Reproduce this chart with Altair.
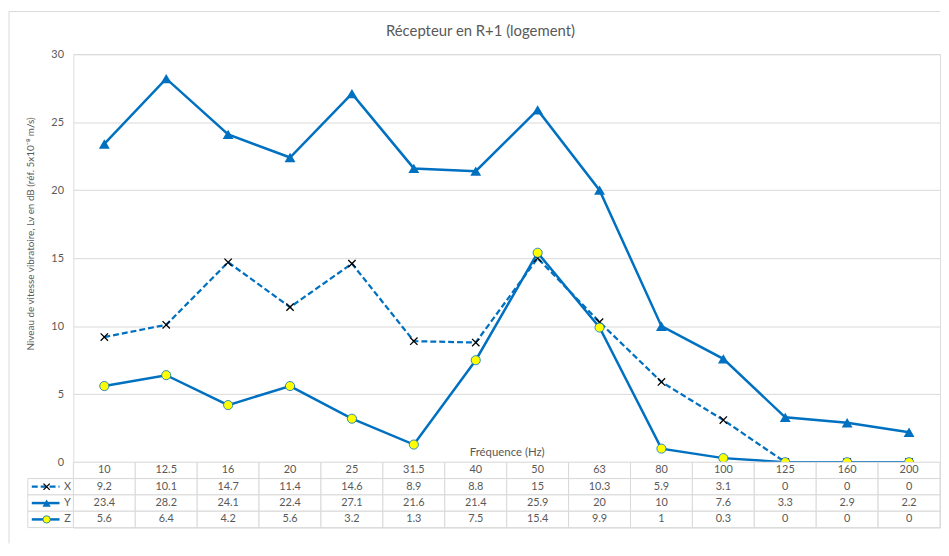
import altair as alt
import pandas as pd

# ---------------- data ----------------
freqs = ["10", "12.5", "16", "20", "25", "31.5", "40", "50", "63", "80", "100", "125", "160", "200"]
x_vals = [9.2, 10.1, 14.7, 11.4, 14.6, 8.9, 8.8, 15, 10.3, 5.9, 3.1, 0, 0, 0]
y_vals = [23.4, 28.2, 24.1, 22.4, 27.1, 21.6, 21.4, 25.9, 20, 10, 7.6, 3.3, 2.9, 2.2]
z_vals = [5.6, 6.4, 4.2, 5.6, 3.2, 1.3, 7.5, 15.4, 9.9, 1, 0.3, 0, 0, 0]
series_names = ["X", "Y", "Z"]
y_ticks = [0, 5, 10, 15, 20, 25, 30]

title_text = "Récepteur en R+1 (logement)"
y_title = "Niveau de vitesse vibratoire, Lv en dB (réf. 5x10⁻⁸ m/s)"
x_title = "Fréquence (Hz)"

# ---------------- style ----------------
BLUE = "#0070C0"
GREY = "#595959"
GRID = "#D9D9D9"
FONT = "Lato"
W = 875
H = 412
TH = 66
X_SHAPE = "M-1,-1L1,1M-1,1L1,-1"

series_vals = {"X": x_vals, "Y": y_vals, "Z": z_vals}
dfs = {s: pd.DataFrame({"freq": freqs, "value": v}) for s, v in series_vals.items()}

x_enc = alt.X("freq:N", sort=freqs,
              scale=alt.Scale(domain=freqs, type="point", padding=0.5),
              axis=alt.Axis(title=x_title, labels=False, ticks=False, domain=False, grid=False,
                            titleY=-10, titleBaseline="middle", titleFont=FONT, titleFontSize=11.5,
                            titleFontWeight="normal", titleColor=GREY))
y_enc = alt.Y("value:Q", scale=alt.Scale(domain=[0, 30], nice=False),
              axis=alt.Axis(values=y_ticks, title=y_title, grid=True, gridColor=GRID, gridWidth=1,
                            domain=False, ticks=False, labelPadding=10, labelColor=GREY,
                            labelFont=FONT, labelFontSize=11, titleFont=FONT, titleFontSize=10,
                            titleFontWeight="normal", titleColor=GREY, titleAngle=-90,
                            titleX=-43, titleY=181, titleAlign="center", titleBaseline="middle"))

lineX = alt.Chart(dfs["X"]).mark_line(color=BLUE, strokeWidth=2.25, strokeDash=[6, 3]).encode(x=x_enc, y=y_enc)
ptsX = alt.Chart(dfs["X"]).mark_point(shape=X_SHAPE, size=55, stroke="black", strokeWidth=1.3,
                                      filled=False, opacity=1).encode(x=x_enc, y=y_enc)
lineY = alt.Chart(dfs["Y"]).mark_line(color=BLUE, strokeWidth=2.5).encode(x=x_enc, y=y_enc)
ptsY = alt.Chart(dfs["Y"]).mark_point(shape="triangle-up", size=120, filled=True, color=BLUE,
                                      opacity=1).encode(x=x_enc, y=y_enc)
lineZ = alt.Chart(dfs["Z"]).mark_line(color=BLUE, strokeWidth=2.5).encode(x=x_enc, y=y_enc)
ptsZ = alt.Chart(dfs["Z"]).mark_point(shape="circle", size=85, filled=True, fill="#FFFF00", stroke=BLUE,
                                      strokeWidth=0.8, opacity=1).encode(x=x_enc, y=y_enc)

# frame + title (decoration)
frame_top = alt.Chart(pd.DataFrame({"a": [0]})).mark_rule(color=GRID, strokeWidth=1).encode(
    x=alt.value(-65), x2=alt.value(W), y=alt.value(-43))
frame_left = alt.Chart(pd.DataFrame({"a": [0]})).mark_rule(color=GRID, strokeWidth=1).encode(
    x=alt.value(-65), y=alt.value(-43), y2=alt.value(494))
title = alt.Chart(pd.DataFrame({"t": [title_text]})).mark_text(
    font=FONT, fontSize=15, color=GREY, baseline="middle", align="center").encode(
    text="t:N", x=alt.value(411), y=alt.value(-23))

top = alt.layer(frame_top, frame_left, title, lineX, lineY, lineZ, ptsX, ptsY, ptsZ).properties(width=W, height=H)

# ---------------- data table ----------------
rows = ["f"] + series_names
recs = []
for i, f in enumerate(freqs):
    recs.append({"freq": f, "row": "f", "label": f})
    for s in series_names:
        recs.append({"freq": f, "row": s, "label": f"{series_vals[s][i]:g}"})
tdf = pd.DataFrame(recs)

tx_scale = alt.Scale(domain=freqs, paddingInner=0, paddingOuter=0)
ty_scale = alt.Scale(domain=rows, paddingInner=0, paddingOuter=0)

cells = alt.Chart(tdf).mark_rect(fill="white", stroke=GRID, strokeWidth=1).encode(
    x=alt.X("freq:N", sort=freqs, scale=tx_scale, axis=None),
    y=alt.Y("row:N", sort=rows, scale=ty_scale, axis=None))
ctext = alt.Chart(tdf).mark_text(font=FONT, fontSize=11, color=GREY, baseline="middle", align="center").encode(
    x=alt.X("freq:N", sort=freqs, scale=tx_scale, axis=None, bandPosition=0.5),
    y=alt.Y("row:N", sort=rows, scale=ty_scale, axis=None, bandPosition=0.5),
    text="label:N")

ldf = pd.DataFrame({"row": series_names})
ly = alt.Y("row:N", sort=rows, scale=ty_scale, axis=None)
lyc = alt.Y("row:N", sort=rows, scale=ty_scale, axis=None, bandPosition=0.5)
leg_cells = alt.Chart(ldf).mark_rect(fill="white", stroke=GRID, strokeWidth=1).encode(
    x=alt.value(-46), x2=alt.value(0), y=ly)
leg_dash = alt.Chart(ldf[ldf.row == "X"]).mark_rule(color=BLUE, strokeWidth=2.25, strokeDash=[6, 3]).encode(
    x=alt.value(-42), x2=alt.value(-14), y=lyc)
leg_solid = alt.Chart(ldf[ldf.row != "X"]).mark_rule(color=BLUE, strokeWidth=2.5).encode(
    x=alt.value(-42), x2=alt.value(-14), y=lyc)
leg_px = alt.Chart(ldf[ldf.row == "X"]).mark_point(shape=X_SHAPE, size=40, stroke="black", strokeWidth=1.3,
                                                  filled=False, opacity=1).encode(x=alt.value(-27), y=lyc)
leg_py = alt.Chart(ldf[ldf.row == "Y"]).mark_point(shape="triangle-up", size=70, filled=True, color=BLUE,
                                                  opacity=1).encode(x=alt.value(-27), y=lyc)
leg_pz = alt.Chart(ldf[ldf.row == "Z"]).mark_point(shape="circle", size=55, filled=True, fill="#FFFF00",
                                                  stroke=BLUE, strokeWidth=0.8, opacity=1).encode(
    x=alt.value(-27), y=lyc)
leg_txt = alt.Chart(ldf).mark_text(font=FONT, fontSize=11, color=GREY, baseline="middle", align="center").encode(
    x=alt.value(-6), y=lyc, text="row:N")

table = alt.layer(cells, ctext, leg_cells, leg_dash, leg_solid, leg_px, leg_py, leg_pz, leg_txt).properties(
    width=W, height=TH)

chart = alt.vconcat(top, table, spacing=0).resolve_scale(x="independent", y="independent").properties(
    bounds="flush", padding=0).configure_view(stroke=None).configure(background="white")

chart.save("out.html", embed_options={"renderer": "svg", "actions": False})
